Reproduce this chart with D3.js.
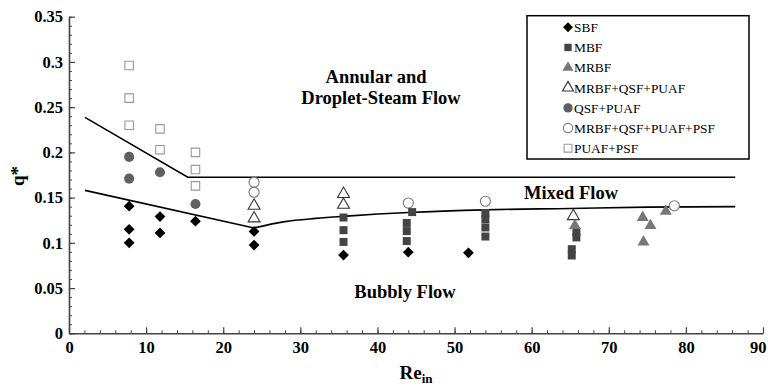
<!DOCTYPE html>
<html><head><meta charset="utf-8">
<script src="https://cdn.jsdelivr.net/npm/d3@7"></script>
<style>
html,body{margin:0;padding:0;background:#fff;}
text{font-family:"Liberation Serif","Times New Roman",serif;}
</style></head>
<body><svg id="c" width="768" height="388"></svg>
<script>
// ---- data ----
const xTicks = [0,10,20,30,40,50,60,70,80,90];
const yTicks = [0,0.05,0.1,0.15,0.2,0.25,0.3,0.35];
const sbf = [[7.8,0.1405],[7.8,0.115],[7.8,0.100],[11.8,0.129],[11.8,0.111],[16.4,0.124],[24.0,0.1126],[24.0,0.0975],[35.6,0.0865],[44.0,0.0897],[51.8,0.089]];
const mbf = [[35.6,0.128],[35.6,0.114],[35.6,0.101],[44.5,0.134],[43.8,0.122],[43.8,0.113],[43.8,0.102],[54.0,0.133],[54.0,0.126],[54.0,0.117],[54.0,0.107],[65.8,0.112],[65.8,0.106],[65.2,0.093],[65.2,0.086]];
const mrbf = [[65.6,0.119],[74.4,0.128],[75.4,0.119],[74.5,0.101],[77.4,0.135]];
const mrbfQsfPuaf = [[24.0,0.141],[24.0,0.127],[35.6,0.154],[35.6,0.142],[65.4,0.1295]];
const qsfPuaf = [[7.8,0.195],[7.8,0.171],[11.8,0.178],[16.4,0.143]];
const mrbfQsfPuafPsf = [[24.0,0.167],[24.0,0.156],[44.0,0.144],[54.0,0.146],[78.5,0.141]];
const puafPsf = [[7.8,0.296],[7.8,0.260],[7.8,0.230],[11.8,0.226],[11.8,0.203],[16.4,0.200],[16.4,0.181],[16.4,0.163]];
const upperBoundary = [[2.07,0.2387],[15.4,0.1725],[86.4,0.1725]];
const lowerBoundaryLeft = [[2.07,0.158],[24,0.1165]];
const lowerBoundaryRight = [[24,0.1165],[28,0.1235],[32,0.127],[36,0.1295],[44,0.1335],[54,0.1365],[65,0.138],[75,0.1395],[86.4,0.140]];
const regionLabels = [
  {text:"Annular and", x:376, y:0.2763},
  {text:"Droplet-Steam Flow", x:381, y:0.253},
  {text:"Mixed Flow", x:571, y:0.148},
  {text:"Bubbly Flow", x:405, y:0.039}
];
const legendNames = ["SBF","MBF","MRBF","MRBF+QSF+PUAF","QSF+PUAF","MRBF+QSF+PUAF+PSF","PUAF+PSF"];

// ---- chart ----
const svg = d3.select("#c");
const x = d3.scaleLinear().domain([0,90]).range([69,763]);
const y = d3.scaleLinear().domain([0,0.35]).range([333.3,16.7]);
const axisColor = "#444";

// minor ticks
const xMinor = d3.range(0,91,2);
const yMinor = d3.range(0,36,1).map(d=>d/100);
svg.append("g").attr("transform","translate(0,"+y(0)+")")
  .call(d3.axisBottom(x).tickValues(xMinor).tickSize(-3).tickSizeOuter(0).tickFormat(""))
  .call(g=>{g.select(".domain").remove();g.selectAll("line").attr("stroke",axisColor);});
svg.append("g").attr("transform","translate("+x(0)+",0)")
  .call(d3.axisLeft(y).tickValues(yMinor).tickSize(-3).tickSizeOuter(0).tickFormat(""))
  .call(g=>{g.select(".domain").remove();g.selectAll("line").attr("stroke",axisColor);});

const fmtY = d => d===0 ? "0" : String(+d.toFixed(2));
const gx = svg.append("g").attr("transform","translate(0,"+y(0)+")")
  .call(d3.axisBottom(x).tickValues(xTicks).tickSize(-6).tickSizeOuter(0).tickPadding(8).tickFormat(d3.format("d")));
const gy = svg.append("g").attr("transform","translate("+x(0)+",0)")
  .call(d3.axisLeft(y).tickValues(yTicks).tickSize(-6).tickSizeOuter(0).tickPadding(6).tickFormat(fmtY));
[gx,gy].forEach(g=>{
  g.select(".domain").attr("stroke",axisColor).attr("stroke-width",1.6);
  g.selectAll(".tick line").attr("stroke",axisColor).attr("stroke-width",1.2);
  g.selectAll("text").attr("fill","#000").style("font-family","'Liberation Serif',serif")
   .style("font-weight","bold").style("font-size","16.5px");
});
gx.selectAll(".tick text").filter(d=>d===90).attr("text-anchor","end").attr("dx","3");

// axis titles
svg.append("text").attr("transform","translate(24,176) rotate(-90)")
  .attr("text-anchor","middle").style("font-weight","bold").style("font-size","19px").text("q*");
const xt = svg.append("text").attr("x",416).attr("y",379).attr("text-anchor","middle")
  .style("font-weight","bold").style("font-size","19px");
xt.append("tspan").text("Re");
xt.append("tspan").attr("dy",3.5).style("font-size","13px").text("in");

// boundary lines
const line = d3.line().x(d=>x(d[0])).y(d=>y(d[1]));
const lineC = d3.line().x(d=>x(d[0])).y(d=>y(d[1])).curve(d3.curveMonotoneX);
svg.append("path").attr("d",line(upperBoundary)).attr("fill","none").attr("stroke","#000").attr("stroke-width",1.6);
svg.append("path").attr("d",line(lowerBoundaryLeft)).attr("fill","none").attr("stroke","#000").attr("stroke-width",1.6);
svg.append("path").attr("d",lineC(lowerBoundaryRight)).attr("fill","none").attr("stroke","#000").attr("stroke-width",1.6);

// region labels
svg.selectAll("text.region").data(regionLabels).join("text").attr("class","region")
  .attr("x",d=>d.x).attr("y",d=>y(d.y)).attr("text-anchor","middle")
  .style("font-weight","bold").style("font-size","18.5px").text(d=>d.text);

// series styles (diamond = square rotated 45deg)
const series = [
  {data:sbf, type:d3.symbolSquare, size:58, rot:45, fill:"#000", stroke:"none"},
  {data:mbf, type:d3.symbolSquare, size:64, rot:0, fill:"#444", stroke:"none"},
  {data:mrbf, type:d3.symbolTriangle, size:62, rot:0, fill:"#777", stroke:"none"},
  {data:mrbfQsfPuaf, type:d3.symbolTriangle, size:62, rot:0, fill:"#fff", stroke:"#333"},
  {data:qsfPuaf, type:d3.symbolCircle, size:80, rot:0, fill:"#606060", stroke:"none"},
  {data:mrbfQsfPuafPsf, type:d3.symbolCircle, size:80, rot:0, fill:"#fff", stroke:"#777"},
  {data:puafPsf, type:d3.symbolSquare, size:72, rot:0, fill:"#fff", stroke:"#999"}
];
const drawOrder = [6,5,4,3,1,2,0];
drawOrder.forEach(i=>{
  const s = series[i];
  svg.append("g").selectAll("path").data(s.data).join("path")
    .attr("transform",d=>"translate("+x(d[0])+","+y(d[1])+") rotate("+s.rot+")")
    .attr("d",d3.symbol().type(s.type).size(s.size)())
    .attr("fill",s.fill).attr("stroke",s.stroke).attr("stroke-width",1.1);
});

// legend
const lg = svg.append("g");
lg.append("rect").attr("x",527).attr("y",15.7).attr("width",222).attr("height",143.3)
  .attr("fill","#fff").attr("stroke","#000").attr("stroke-width",1.5);
legendNames.forEach((n,i)=>{
  const s = series[i];
  const cy = 27.3 + i*20.15;
  lg.append("path").attr("transform","translate(568,"+cy+") rotate("+s.rot+")")
    .attr("d",d3.symbol().type(s.type).size(s.size*0.85)())
    .attr("fill",s.fill).attr("stroke",s.stroke).attr("stroke-width",1.1);
  lg.append("text").attr("x",574).attr("y",cy+4.8).style("font-size","13.4px").attr("fill","#000").text(n);
});
</script></body></html>
